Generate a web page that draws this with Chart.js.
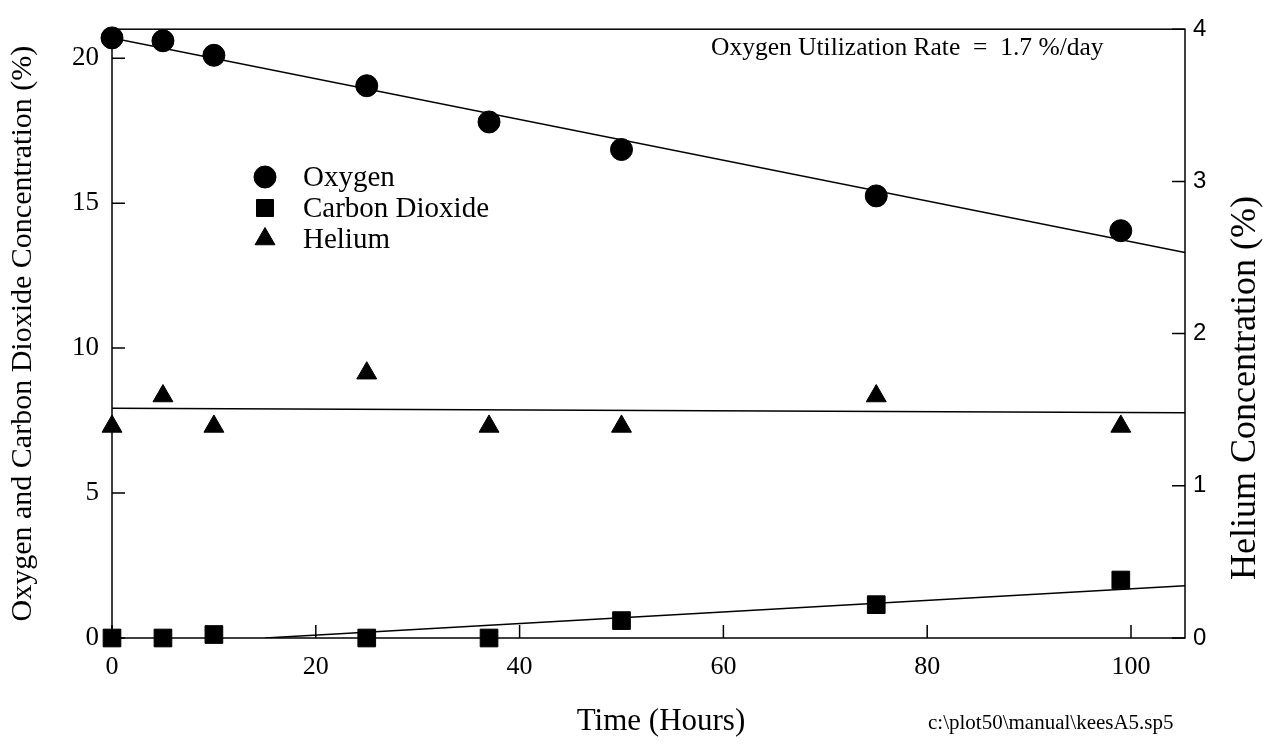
<!DOCTYPE html>
<html lang="en">
<head>
<meta charset="UTF-8">
<title>Oxygen Utilization</title>
<script src="https://cdn.jsdelivr.net/npm/chart.js@4"></script>
<style>
  body { margin: 0; background: #fff; }
  #wrap { width: 1272px; height: 746px; }
</style>
</head>
<body>
<div id="wrap"><canvas id="chart" width="1272" height="746"></canvas></div>
<script>
// measured points (time in hours)
const times = [0, 5, 10, 25, 37, 50, 75, 99];
const oxygen = [20.7, 20.6, 20.1, 19.05, 17.8, 16.85, 15.25, 14.05];
const carbonDioxide = [0, 0, 0.12, 0, 0, 0.6, 1.15, 2.0];
const helium = [1.39, 1.59, 1.39, 1.74, 1.39, 1.39, 1.59, 1.39];

// fitted lines, end points
const oxygenFitX = [0, 105.3];
const oxygenFit = [20.7, 13.3];
const co2FitX = [15, 105.3];
const co2Fit = [0, 1.8];
const heliumFitX = [0, 105.3];
const heliumFit = [1.51, 1.48];

// tick values
const timeTicks = [0, 20, 40, 60, 80, 100];
const leftTicks = [0, 5, 10, 15, 20];
const rightTicks = [0, 1, 2, 3, 4];

const serif = '"Liberation Serif", "Times New Roman", serif';
const sans = '"Liberation Sans", Arial, sans-serif';

Chart.defaults.font.family = serif;
Chart.defaults.color = '#000';

function pts(xs, ys) {
    return xs.map((x, i) => ({ x: x, y: ys[i] }));
}

const framePlugin = {
    id: 'frame',
    beforeDatasetsDraw(chart) {
        const { ctx, chartArea: a, scales } = chart;
        ctx.save();
        ctx.strokeStyle = '#000';
        ctx.lineWidth = 1.5;
        ctx.strokeRect(a.left, a.top, a.right - a.left, a.bottom - a.top);
        // inward tick marks
        ctx.beginPath();
        scales.x.ticks.forEach(t => {
            const px = scales.x.getPixelForValue(t.value);
            ctx.moveTo(px, a.bottom);
            ctx.lineTo(px, a.bottom - 13);
        });
        scales.y.ticks.forEach(t => {
            const py = scales.y.getPixelForValue(t.value);
            ctx.moveTo(a.left, py);
            ctx.lineTo(a.left + 13, py);
        });
        scales.y2.ticks.forEach(t => {
            const py = scales.y2.getPixelForValue(t.value);
            ctx.moveTo(a.right, py);
            ctx.lineTo(a.right - 13, py);
        });
        ctx.stroke();
        ctx.restore();
    },
    afterDraw(chart) {
        const ctx = chart.ctx;
        ctx.save();
        ctx.fillStyle = '#000';
        ctx.strokeStyle = '#000';

        // legend inside the plot
        const legendSets = chart.data.datasets.filter(d => !d.showLine);
        legendSets.forEach((d, i) => {
            const y = 177 + i * 31;
            Chart.helpers.drawPoint(ctx, {
                pointStyle: d.pointStyle,
                radius: d.legendRadius,
                rotation: 0,
                borderWidth: 1
            }, 265, y);
            ctx.font = '29px ' + serif;
            ctx.textAlign = 'left';
            ctx.textBaseline = 'middle';
            ctx.fillText(d.label, 303, y + 1);
        });

        // rate annotation
        ctx.font = '25.5px ' + serif;
        ctx.textBaseline = 'alphabetic';
        ctx.fillText('Oxygen Utilization Rate  =  1.7 %/day', 711, 55);

        // file name at the bottom
        ctx.font = '21px ' + serif;
        ctx.fillText('c:\\plot50\\manual\\keesA5.sp5', 928, 729);

        // axis title under the time axis
        ctx.font = '31px ' + serif;
        ctx.textAlign = 'center';
        ctx.textBaseline = 'middle';
        ctx.fillText('Time (Hours)', 661, 722);

        // right axis title, reading upwards
        ctx.translate(1246, 388);
        ctx.rotate(-Math.PI / 2);
        ctx.font = '36px ' + serif;
        ctx.fillText('Helium Concentration (%)', 0, 0);
        ctx.restore();
    }
};

new Chart(document.getElementById('chart'), {
    type: 'scatter',
    data: {
        datasets: [
            {
                label: 'Oxygen',
                data: pts(times, oxygen),
                yAxisID: 'y',
                pointStyle: 'circle',
                pointRadius: 11,
                legendRadius: 11,
                backgroundColor: '#000',
                borderColor: '#000',
                borderWidth: 1,
                clip: false,
                order: 0
            },
            {
                label: 'Carbon Dioxide',
                data: pts(times, carbonDioxide),
                yAxisID: 'y',
                pointStyle: 'rect',
                pointRadius: 12.5,
                legendRadius: 12,
                backgroundColor: '#000',
                borderColor: '#000',
                borderWidth: 1,
                clip: false,
                order: 0
            },
            {
                label: 'Helium',
                data: pts(times, helium),
                yAxisID: 'y2',
                pointStyle: 'triangle',
                pointRadius: 11.5,
                legendRadius: 11.5,
                backgroundColor: '#000',
                borderColor: '#000',
                borderWidth: 1,
                clip: false,
                order: 0
            },
            {
                label: 'Oxygen fit',
                data: pts(oxygenFitX, oxygenFit),
                yAxisID: 'y',
                showLine: true,
                pointRadius: 0,
                borderColor: '#000',
                borderWidth: 1.5,
                order: 1
            },
            {
                label: 'Carbon Dioxide fit',
                data: pts(co2FitX, co2Fit),
                yAxisID: 'y',
                showLine: true,
                pointRadius: 0,
                borderColor: '#000',
                borderWidth: 1.5,
                order: 1
            },
            {
                label: 'Helium fit',
                data: pts(heliumFitX, heliumFit),
                yAxisID: 'y2',
                showLine: true,
                pointRadius: 0,
                borderColor: '#000',
                borderWidth: 1.5,
                order: 1
            }
        ]
    },
    options: {
        responsive: false,
        animation: false,
        layout: { padding: { top: 20, left: 0, right: 0, bottom: 0 } },
        plugins: {
            legend: { display: false },
            tooltip: { enabled: false }
        },
        scales: {
            x: {
                type: 'linear',
                position: 'bottom',
                min: 0,
                max: 105.3,
                afterBuildTicks: s => { s.ticks = timeTicks.map(v => ({ value: v })); },
                afterFit: s => { s.height = 108; },
                grid: { display: false, drawTicks: false },
                border: { display: false },
                ticks: { font: { size: 26 }, padding: 14, maxRotation: 0, autoSkip: false }
            },
            y: {
                type: 'linear',
                position: 'left',
                min: 0,
                max: 21,
                afterBuildTicks: s => { s.ticks = leftTicks.map(v => ({ value: v })); },
                afterFit: s => { s.width = 112; },
                grid: { display: false, drawTicks: false },
                border: { display: false },
                ticks: { font: { size: 27 }, padding: 13 },
                title: {
                    display: true,
                    text: 'Oxygen and Carbon Dioxide Concentration (%)',
                    font: { size: 30 },
                    padding: { top: 5, bottom: 0 }
                }
            },
            y2: {
                type: 'linear',
                position: 'right',
                min: 0,
                max: 4,
                afterBuildTicks: s => { s.ticks = rightTicks.map(v => ({ value: v })); },
                afterFit: s => { s.width = 87; },
                grid: { display: false, drawTicks: false },
                border: { display: false },
                ticks: { font: { family: sans, size: 24 }, padding: 8 }
            }
        }
    },
    plugins: [framePlugin]
});
</script>
</body>
</html>
